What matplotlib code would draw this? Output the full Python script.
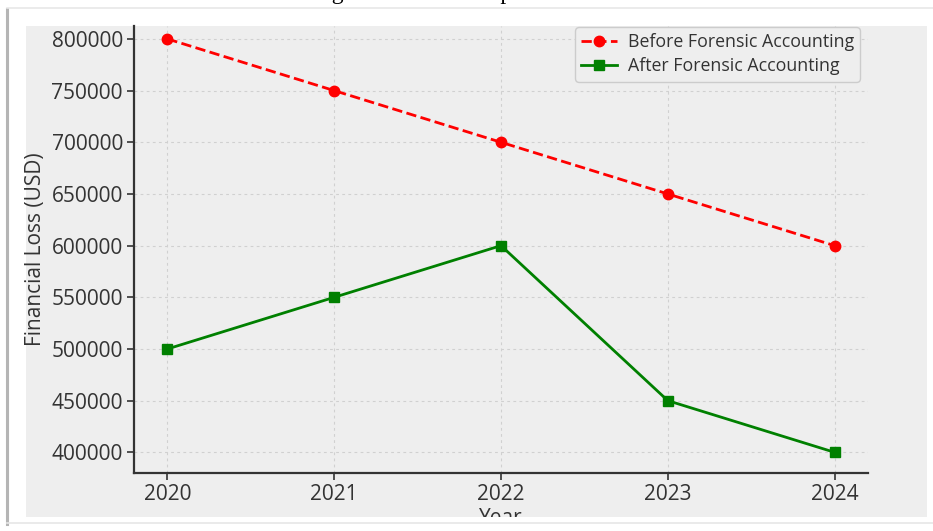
import matplotlib
matplotlib.use("Agg")
import matplotlib.pyplot as plt
from matplotlib.patches import Rectangle
from matplotlib.lines import Line2D

# data
years = [2020, 2021, 2022, 2023, 2024]
loss_before = [800000, 750000, 700000, 650000, 600000]
loss_after = [500000, 550000, 600000, 450000, 400000]
yticks = [400000, 450000, 500000, 550000, 600000, 650000, 700000, 750000, 800000]

W, H = 933, 531
plt.rcParams['font.family'] = ['Open Sans', 'DejaVu Sans']

fig = plt.figure(figsize=(W / 100, H / 100), dpi=100, facecolor='white')

def fx(px):
    return px / W

def fy(py):
    return 1 - py / H

# grey chart background
fig.add_artist(Rectangle((fx(26), fy(517)), fx(927) - fx(26), fy(26) - fy(517),
                         transform=fig.transFigure, facecolor='#eeeeee',
                         edgecolor='none', zorder=-5))

ax = fig.add_axes([fx(134), fy(473), fx(868) - fx(134), fy(26) - fy(473)])
ax.set_facecolor('none')

ax.plot(years, loss_before, color='red', linestyle='--', marker='o',
        markersize=7.5, linewidth=2, label='Before Forensic Accounting')
ax.plot(years, loss_after, color='green', linestyle='-', marker='s',
        markersize=7.5, linewidth=2, label='After Forensic Accounting')

ax.set_xlim(2019.8, 2024.2)
ax.set_ylim(380000, 812500)
ax.set_xticks(years)
ax.set_yticks(yticks)
ax.tick_params(labelsize=15, colors='#333333', length=5, width=1.2, pad=3)
ax.grid(True, linestyle='--', linewidth=0.8, color='#d0d0d0', dashes=(2.5, 3))
ax.set_axisbelow(True)

for side in ['top', 'right']:
    ax.spines[side].set_visible(False)
for side in ['left', 'bottom']:
    ax.spines[side].set_color('#333333')
    ax.spines[side].set_linewidth(1.6)

ax.set_xlabel('Year', fontsize=15, color='#333333', labelpad=2)
ax.set_ylabel('Financial Loss (USD)', fontsize=15, color='#333333', labelpad=4)

leg = ax.legend(loc='upper right', bbox_to_anchor=(1 - 8 / 734, 1 - 1 / 447),
                fontsize=12.8, frameon=True,
                edgecolor='#cccccc', facecolor='#eeeeee', framealpha=1,
                borderaxespad=0, handlelength=2.0, borderpad=0.35,
                labelspacing=0.35, handletextpad=0.6)
for t in leg.get_texts():
    t.set_color('#333333')

# white page strip below the chart clips the x label
fig.add_artist(Rectangle((0, 0), 1, fy(517), transform=fig.transFigure,
                         facecolor='white', edgecolor='none', zorder=5))

# page frame lines
fig.add_artist(Line2D([fx(7), fx(7)], [fy(9), fy(524)], transform=fig.transFigure,
                      color='#b5b5b5', linewidth=2.2, zorder=6))
fig.add_artist(Line2D([fx(7), 1], [fy(8), fy(8)], transform=fig.transFigure,
                      color='#e8e8e8', linewidth=1.2, zorder=6))
fig.add_artist(Line2D([fx(7), 1], [fy(523), fy(523)], transform=fig.transFigure,
                      color='#e6e6e6', linewidth=1.2, zorder=6))

# caption above the chart, mostly off the top edge
fig.text(fx(312), 1.002, 'Figure 1: Loss Comparison', fontsize=17,
         family='Liberation Serif', ha='left', va='baseline', color='black', zorder=7)

fig.savefig('out.png', dpi=100, facecolor='white')
